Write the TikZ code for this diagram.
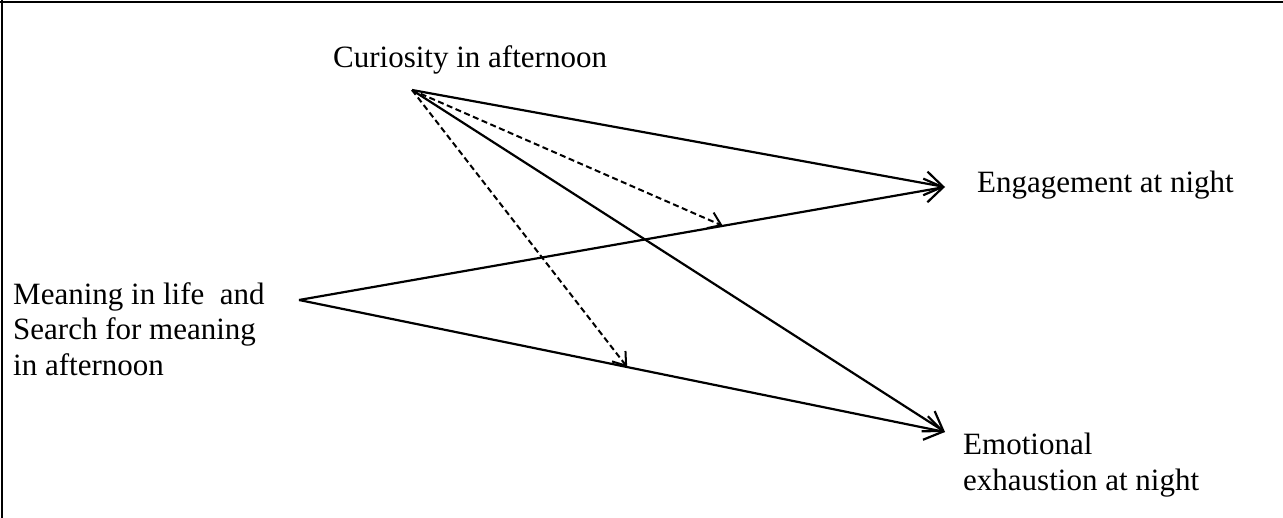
\documentclass[tikz,border=0pt]{standalone}
\usepackage{fontspec}
\setmainfont{Liberation Serif}
\usetikzlibrary{arrows.meta}
\tikzset{
  lbl/.style={inner sep=0pt, font=\fontsize{31}{35.5}\selectfont, align=left},
  path/.style={line width=2.2pt, -{Straight Barb[length=18pt,width=24pt,line width=2.2pt]}},
  mod/.style={line width=2pt, dash pattern=on 6pt off 3.5pt, -{Straight Barb[length=12pt,width=17pt,line width=2pt,sep=0pt]}},
  frame/.style={line width=1.8pt}
}
\begin{document}
\begin{tikzpicture}[x=1pt,y=-1pt]
\useasboundingbox (0,0) rectangle (1283,518);
% frame (top and left edges only)
\draw[frame] (0,2) -- (1283,2);
\draw[frame] (2,0) -- (2,518);
% labels
\node[lbl, anchor=base west] (cur) at (333,68) {Curiosity in afternoon};
\node[lbl, anchor=base west] (eng) at (977,193) {Engagement at night};
\node[lbl, anchor=north west] (exh) at (963,433) {Emotional\\exhaustion at night};
\node[lbl, anchor=north west] (mea) at (13,282) {Meaning in life \ and\\Search for meaning\\in afternoon};
% connector end points
\coordinate (c0) at (412,90);
\coordinate (m0) at (299,300);
\coordinate (e1) at (945,187);
\coordinate (x1) at (945,432);
% main paths
\draw[path] (c0) -- (e1);
\draw[path] (c0) -- (x1);
\draw[path] (m0) -- (e1);
\draw[path] (m0) -- (x1);
% moderation targets on the paths
\path (m0) -- (e1) coordinate[pos=0.656] (me);
\path (m0) -- (x1) coordinate[pos=0.508] (mx);
\draw[mod] (c0) -- (me);
\draw[mod] (c0) -- (mx);
\end{tikzpicture}
\end{document}
